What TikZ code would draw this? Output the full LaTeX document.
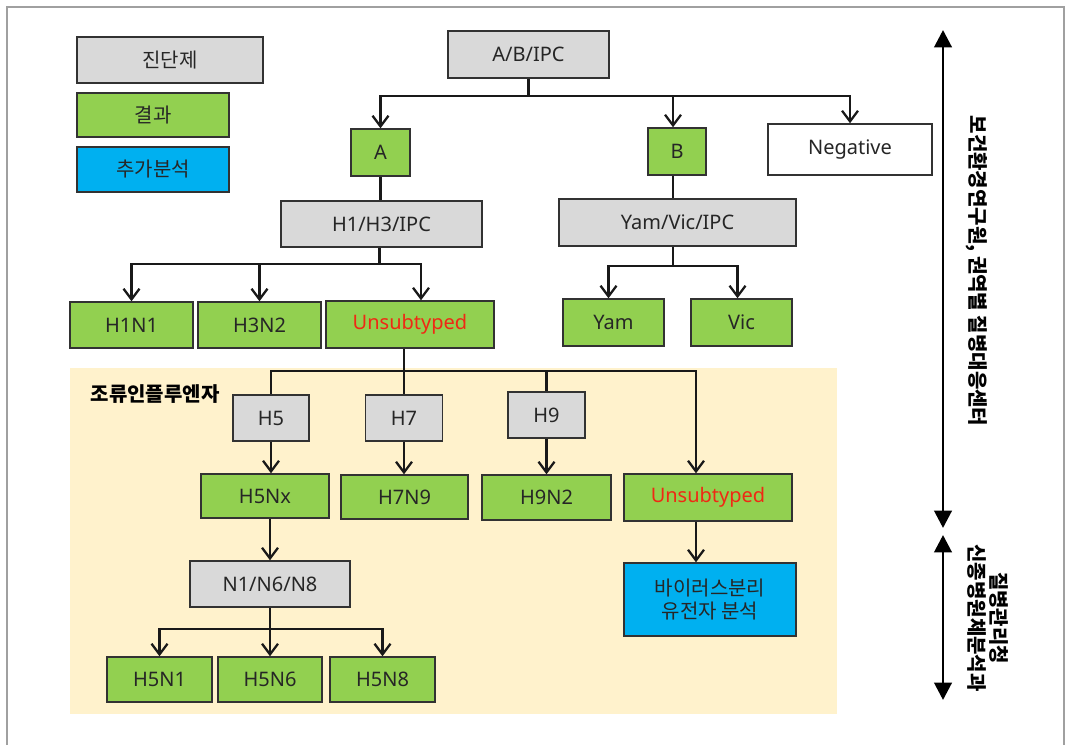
\documentclass[tikz,border=0pt]{standalone}
\usepackage{fontspec}
\setmainfont{Noto Sans}
\newfontfamily\krfont{Noto Sans CJK KR}
\usetikzlibrary{arrows.meta, calc, positioning}
\definecolor{testgray}{RGB}{217,217,217}
\definecolor{resultgreen}{RGB}{146,208,80}
\definecolor{extrablue}{RGB}{0,176,240}
\definecolor{regionbeige}{RGB}{255,242,204}
\definecolor{alertred}{RGB}{240,40,20}
\definecolor{framegray}{RGB}{160,160,160}
\definecolor{boxborder}{RGB}{50,50,50}
\tikzset{
    my-box/.style={
        draw=boxborder, line width=1.1pt, inner sep=0pt, align=center,
        text=black!85, font=\fontsize{15}{18}\selectfont
    },
    my-test-box/.style={
        my-box, fill=testgray
    },
    my-result-box/.style={
        my-box, fill=resultgreen
    },
    my-extra-box/.style={
        my-box, fill=extrablue
    },
    my-neg-box/.style={
        my-box, fill=white
    },
    my-size/.style 2 args={
        minimum width=#1*0.75pt, minimum height=#2*0.75pt
    },
    my-wire/.style={
        line width=1.7pt, black!90
    },
    my-arrow/.style={
        my-wire, -{Straight Barb[length=8pt, width=12pt]}
    },
    my-span/.style={
        line width=2.2pt, {Triangle[length=13pt, width=13pt]}-{Triangle[length=13pt, width=13pt]}
    },
    my-side-text/.style={
        rotate=-90, align=center, font=\krfont\bfseries\fontsize{15}{17}\selectfont
    },
}

\begin{document}
\begin{tikzpicture}[x=0.75pt, y=-0.75pt]

        \useasboundingbox (0,0) rectangle (1069,745);

        % FRAME AND REGION
        \draw[framegray, line width=1.5pt] (7,745) -- (7,7) -- (1064,7) -- (1064,745);
        \node[fill=regionbeige, inner sep=0pt, my-size={767}{346}] (BIRD) at (453.5,541) {};
        \node[font=\krfont\bfseries\fontsize{15}{18}\selectfont] (BIRDLBL) at (155,394) {조류인플루엔자};

        % LEGEND
        \node[my-test-box,   my-size={186}{46}] (KEYTEST)   at (170,60)    {\krfont 진단제};
        \node[my-result-box, my-size={152}{44}] (KEYRESULT) at (153,115)   {\krfont 결과};
        \node[my-extra-box,  my-size={152}{45}] (KEYEXTRA)  at (153,169.5) {\krfont 추가분석};

        % FIRST TEST
        \node[my-test-box,   my-size={161}{47}] (ABIPC) at (528.5,54.5) {A/B/IPC};
        \node[my-result-box, my-size={59}{47}]  (A)     at (380.5,152.5) {A};
        \node[my-result-box, my-size={58}{47}]  (B)     at (677,151.5)   {B};
        \node[my-neg-box,    my-size={164}{51}] (NEG)   at (850,149.5)   {Negative};

        \coordinate (ABJOIN) at ($(ABIPC.south) + (0,17)$);
        \draw[my-wire]  (ABIPC.south) -- (ABJOIN);
        \draw[my-arrow] (ABJOIN) -| (A.north);
        \draw[my-arrow] (ABJOIN) -| ($(B.north) + (-4,0)$);
        \draw[my-arrow] (ABJOIN) -| (NEG.north);

        % SUBTYPE TESTS
        \node[my-test-box, my-size={201}{46}] (H1H3)  at (381.5,224)   {H1/H3/IPC};
        \node[my-test-box, my-size={237}{47}] (YVIPC) at (677.5,222.5) {Yam/Vic/IPC};
        \draw[my-wire] (A.south) -- (A.south |- H1H3.north);
        \draw[my-wire] ($(B.south) + (-4,0)$) -- ($(B.south |- YVIPC.north) + (-4,0)$);

        % SEASONAL RESULTS
        \node[my-result-box, my-size={123}{46}] (H1N1)   at (131.5,325)   {H1N1};
        \node[my-result-box, my-size={123}{46}] (H3N2)   at (259.5,325)   {H3N2};
        \node[my-result-box, my-size={168}{47}, text=alertred] (UNSUB1) at (410,324.5) {Unsubtyped};
        \node[my-result-box, my-size={101}{47}] (YAM)    at (613.5,322.5) {Yam};
        \node[my-result-box, my-size={101}{47}] (VIC)    at (741.5,322.5) {Vic};

        \coordinate (HJOIN) at ($(H1H3.south) + (-2,16)$);
        \draw[my-wire]  (H1H3.south -| HJOIN) -- (HJOIN);
        \draw[my-arrow] (HJOIN) -| (H1N1.north);
        \draw[my-arrow] (HJOIN) -| (H3N2.north);
        \draw[my-arrow] (HJOIN) -| ($(UNSUB1.north) + (11,0)$);

        \coordinate (YVJOIN) at ($(YVIPC.south) + (-4.5,19)$);
        \draw[my-wire]  (YVIPC.south -| YVJOIN) -- (YVJOIN);
        \draw[my-arrow] (YVJOIN) -| ($(YAM.north) + (-5,0)$);
        \draw[my-arrow] (YVJOIN) -| ($(VIC.north) + (-4,0)$);

        % AVIAN TESTS
        \node[my-test-box, my-size={76}{46}] (H5) at (271,418)   {H5};
        \node[my-test-box, my-size={77}{46}] (H7) at (404,418)   {H7};
        \node[my-test-box, my-size={77}{46}] (H9) at (546.5,415) {H9};

        \coordinate (UJOIN) at ($(H7.north |- UNSUB1.south) + (0,22)$);
        \draw[my-wire]  (H7.north |- UNSUB1.south) -- (H7.north);
        \draw[my-wire]  (UJOIN) -| (H5.north);
        \draw[my-wire]  (UJOIN) -| (H9.north);

        % AVIAN RESULTS
        \node[my-result-box, my-size={128}{44}] (H5NX)   at (265,496)     {H5Nx};
        \node[my-result-box, my-size={127}{44}] (H7N9)   at (404.5,497)   {H7N9};
        \node[my-result-box, my-size={129}{45}] (H9N2)   at (546.5,497.5) {H9N2};
        \node[my-result-box, my-size={168}{47}, text=alertred] (UNSUB2) at (708,497.5) {Unsubtyped};

        \draw[my-arrow] (UJOIN) -| ($(UNSUB2.north) + (-12,0)$);
        \draw[my-arrow] (H5.south) -- (H5.south |- H5NX.north);
        \draw[my-arrow] (H7.south) -- (H7.south |- H7N9.north);
        \draw[my-arrow] (H9.south) -- (H9.south |- H9N2.north);

        % NEURAMINIDASE AND ISOLATION
        \node[my-test-box,  my-size={160}{46}] (N1N6N8) at (270,584)   {N1/N6/N8};
        \node[my-extra-box, my-size={172}{73}, font=\krfont\fontsize{15}{17.5}\selectfont] (VIRUS) at (710,599.5) {바이러스분리\\유전자 분석};

        \draw[my-arrow] (N1N6N8.north |- H5NX.south) -- (N1N6N8.north);
        \draw[my-arrow] ($(UNSUB2.south) + (-12,0)$) -- ($(VIRUS.north -| UNSUB2.south) + (-12,0)$);

        % H5 RESULTS
        \node[my-result-box, my-size={105}{45}] (H5N1) at (159.5,679.5) {H5N1};
        \node[my-result-box, my-size={104}{45}] (H5N6) at (270,679.5)   {H5N6};
        \node[my-result-box, my-size={105}{45}] (H5N8) at (382.5,679.5) {H5N8};

        \coordinate (NJOIN) at ($(N1N6N8.south) + (0,21)$);
        \draw[my-wire]  (N1N6N8.south) -- (NJOIN);
        \draw[my-arrow] (NJOIN) -| (H5N1.north);
        \draw[my-arrow] (NJOIN) -- (H5N6.north);
        \draw[my-arrow] (NJOIN) -| (H5N8.north);

        % SIDE SPANS
        \coordinate (SPANTOP)  at (943,30);
        \coordinate (SPANMID)  at (943,528);
        \coordinate (SPANMID2) at (943,535);
        \coordinate (SPANBOT)  at (943,700);
        \draw[my-span] (SPANTOP) -- (SPANMID);
        \draw[my-span] (SPANMID2) -- (SPANBOT);

        \node[my-side-text] (REGIONLBL) at (977,271) {보건환경연구원, 권역별 질병대응센터};
        \node[my-side-text] (KDCALBL)   at (988,618) {질병관리청\\신종병원체분석과};

    \end{tikzpicture}
\end{document}
